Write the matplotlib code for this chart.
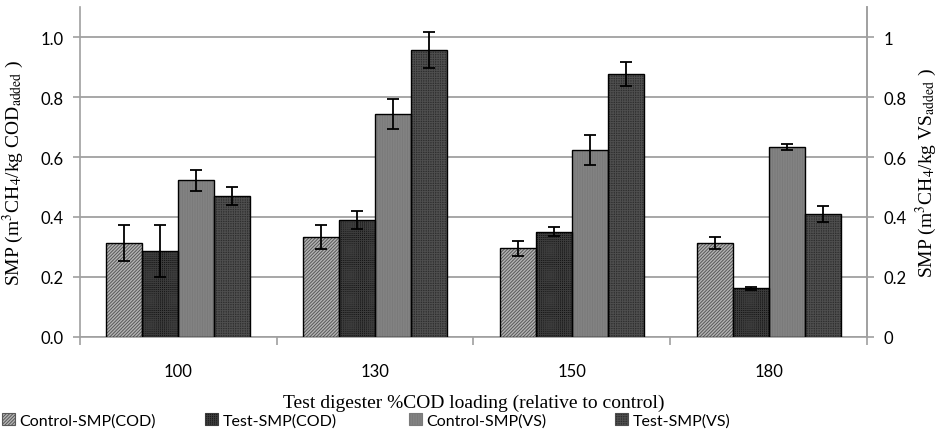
import matplotlib
matplotlib.use('Agg')
import matplotlib.pyplot as plt
import numpy as np
from matplotlib.patches import Patch

plt.rcParams['mathtext.fontset'] = 'stix'
plt.rcParams['hatch.linewidth'] = 0.7

# loading levels and SMP results (mean, std)
loading = ['100', '130', '150', '180']
series = ['Control-SMP(COD)', 'Test-SMP(COD)', 'Control-SMP(VS)', 'Test-SMP(VS)']
ctrl_cod = [0.313, 0.333, 0.295, 0.313]
ctrl_cod_err = [0.061, 0.041, 0.025, 0.020]
test_cod = [0.287, 0.389, 0.350, 0.163]
test_cod_err = [0.087, 0.030, 0.015, 0.005]
ctrl_vs = [0.522, 0.744, 0.622, 0.635]
ctrl_vs_err = [0.035, 0.050, 0.050, 0.010]
test_vs = [0.470, 0.957, 0.876, 0.410]
test_vs_err = [0.030, 0.060, 0.040, 0.028]

means = [ctrl_cod, test_cod, ctrl_vs, test_vs]
errs = [ctrl_cod_err, test_cod_err, ctrl_vs_err, test_vs_err]
faces = ['#b4b4b4', '#141414', '#868686', '#2e2e2e']
hatch_cols = ['#585858', '#3c3c3c', '#7a7a7a', '#4e4e4e']
hatches = ['/' * 10, '+' * 8, '|' * 10, '+' * 7]

sans = ['Lato', 'DejaVu Sans']
serif = ['Liberation Serif', 'DejaVu Serif']
gray = '#a0a0a0'

fig = plt.figure(figsize=(9.4, 4.31), dpi=100)
ax = fig.add_axes([0.0851, 0.2158, 0.8372, 0.7656])

x = np.arange(len(loading))
width = 0.183
for i in range(4):
    pos = x + (i - 1.5) * width
    # hatch colour follows edgecolor, so the black outline is a second bar on top
    ax.bar(pos, means[i], width, color=faces[i], edgecolor=hatch_cols[i], linewidth=0,
           hatch=hatches[i], zorder=3)
    ax.bar(pos, means[i], width, fill=False, edgecolor='black', linewidth=1.0, zorder=4)
    ax.errorbar(pos, means[i], yerr=errs[i], fmt='none', ecolor='black',
                elinewidth=1.3, capsize=4.5, capthick=1.3, zorder=5)

ax.set_xlim(-0.5, 3.5)
ax.set_ylim(0, 1.1)
ticks = np.arange(0, 1.01, 0.2)
ax.set_yticks(ticks)
ax.set_yticklabels([f'{v:.1f}' for v in ticks], family=sans, fontsize=12)
ax.set_xticks(x)
ax.set_xticklabels(loading, family=sans, fontsize=12)
ax.set_xticks(np.arange(-0.5, 3.6, 1.0), minor=True)
ax.tick_params(axis='x', which='major', length=0, pad=19)
ax.tick_params(axis='x', which='minor', length=6, color=gray, width=1.2)
ax.tick_params(axis='y', length=5, color=gray, width=1.2, direction='out', pad=7)
ax.yaxis.grid(True, color=gray, linewidth=1.3, zorder=0)
ax.set_axisbelow(True)

ax.spines['top'].set_visible(False)
for s in ['left', 'right', 'bottom']:
    ax.spines[s].set_color(gray)
    ax.spines[s].set_linewidth(1.2)

ax.set_ylabel('SMP (m$^3$CH$_4$/kg COD$_{\\mathrm{added}}$ )', family=serif, fontsize=14)
ax.yaxis.set_label_coords(-0.068, 0.5)
ax.set_xlabel('Test digester %COD loading (relative to control)', family=serif, fontsize=14)
ax.xaxis.set_label_coords(0.5, -0.172)

ax2 = ax.twinx()
ax2.set_ylim(0, 1.1)
ax2.set_yticks(ticks)
ax2.set_yticklabels([f'{v:g}' for v in ticks], family=sans, fontsize=12)
ax2.tick_params(axis='y', length=5, color=gray, width=1.2, direction='out', pad=7)
for s in ['top', 'left', 'bottom']:
    ax2.spines[s].set_visible(False)
ax2.spines['right'].set_color(gray)
ax2.spines['right'].set_linewidth(1.2)
ax2.set_ylabel('SMP (m$^3$CH$_4$/kg VS$_{\\mathrm{added}}$ )', family=serif, fontsize=14,
               rotation=90)
ax2.yaxis.set_label_coords(1.06, 0.5)

# one legend entry per slot along the bottom
legend_x = [0.002, 0.218, 0.435, 0.654]
for i in range(4):
    h = Patch(facecolor=faces[i], edgecolor=hatch_cols[i], hatch=hatches[i], linewidth=0.8)
    fig.legend([h], [series[i]], loc='center left', bbox_to_anchor=(legend_x[i], 0.023),
               frameon=False, prop={'family': sans, 'size': 11.5}, handlelength=0.8,
               handleheight=0.8, handletextpad=0.3, borderpad=0, borderaxespad=0)

fig.savefig('out.png', dpi=100)
